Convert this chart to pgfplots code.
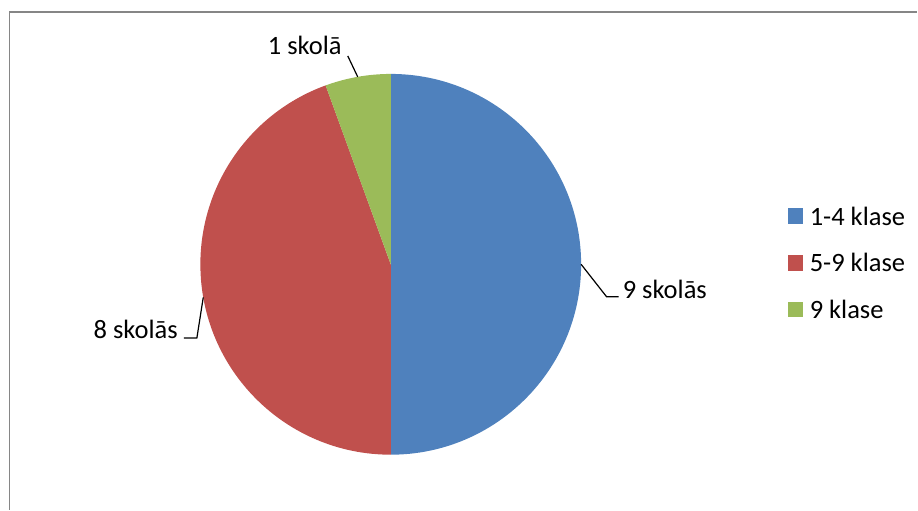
\documentclass[border=0pt]{standalone}
\usepackage{pgfplots}
\usepackage{pgfplotstable}
\pgfplotsset{compat=1.18}
\usepackage{fontspec}
\setmainfont{Carlito}

\definecolor{pieblue}{RGB}{79,129,189}
\definecolor{piered}{RGB}{192,80,77}
\definecolor{piegreen}{RGB}{155,187,89}
\definecolor{framegray}{RGB}{134,134,134}

% skolu skaits pa klasu grupam
\pgfplotstableread[col sep=comma]{
klase,skolas
1-4 klase,9
5-9 klase,8
9 klase,1
}\piedata

\begin{document}
\begin{tikzpicture}
\pgfplotstablegetelem{0}{skolas}\of\piedata \edef\va{\pgfplotsretval}
\pgfplotstablegetelem{1}{skolas}\of\piedata \edef\vb{\pgfplotsretval}
\pgfplotstablegetelem{2}{skolas}\of\piedata \edef\vc{\pgfplotsretval}
\pgfmathsetmacro\tot{\va+\vb+\vc}
\pgfmathsetmacro\aA{90}
\pgfmathsetmacro\aB{\aA-360*\va/\tot}
\pgfmathsetmacro\aC{\aB-360*\vb/\tot}
\pgfmathsetmacro\aD{\aC-360*\vc/\tot}
\pgfmathsetmacro\mA{(\aA+\aB)/2}
\pgfmathsetmacro\mB{(\aB+\aC)/2}
\pgfmathsetmacro\mC{(\aC+\aD)/2}
\def\R{190.5bp}
\def\lblfont{\fontsize{26.5bp}{31bp}\selectfont}
\begin{axis}[
    scale only axis,
    width=918bp, height=510bp,
    xmin=0, xmax=918, ymin=0, ymax=510,
    hide axis,
    clip=false,
    legend image code/.code={\fill[#1] (0bp,-7bp) rectangle (14.4bp,7.4bp);},
    legend cell align=left,
    legend style={draw=none, fill=none, inner sep=0pt,
        at={(axis cs:788,303)}, anchor=north west,
        font=\fontsize{26.5bp}{31bp}\selectfont,
        row sep=28.7bp, column sep=7.3bp,
        nodes={inner sep=0pt, text height=18bp, text depth=0bp}},
]
\path (axis cs:0,0) rectangle (axis cs:918,510);
\draw[framegray, line width=1.2bp] (axis cs:9.5,0) -- (axis cs:9.5,498) -- (axis cs:918,498);

\fill[pieblue] (axis cs:391,245.5) -- ([shift={(\aA:\R)}]axis cs:391,245.5)
    arc[start angle=\aA, end angle=\aB, radius=\R] -- cycle;
\fill[piered] (axis cs:391,245.5) -- ([shift={(\aB:\R)}]axis cs:391,245.5)
    arc[start angle=\aB, end angle=\aC, radius=\R] -- cycle;
\fill[piegreen] (axis cs:391,245.5) -- ([shift={(\aC:\R)}]axis cs:391,245.5)
    arc[start angle=\aC, end angle=\aD, radius=\R] -- cycle;

% datu etiketes ar vilkumiem
\draw[line width=1.2bp] ([shift={(\mA:\R)}]axis cs:391,245.5) -- (axis cs:607,213) -- (axis cs:619,213);
\draw[line width=1.2bp] ([shift={(\mB:\R)}]axis cs:391,245.5) -- (axis cs:197,171.7) -- (axis cs:184,171.7);
\draw[line width=1.2bp] ([shift={(\mC:\R)}]axis cs:391,245.5) -- (axis cs:348,454);
\node[anchor=base west, inner sep=0pt, font=\lblfont] at (axis cs:623,211) {9 skolās};
\node[anchor=base east, inner sep=0pt, font=\lblfont] at (axis cs:178,171.7) {8 skolās};
\node[anchor=base east, inner sep=0pt, font=\lblfont] at (axis cs:342,455.7) {1 skolā};

\addlegendimage{pieblue}
\addlegendentry{1-4 klase}
\addlegendimage{piered}
\addlegendentry{5-9 klase}
\addlegendimage{piegreen}
\addlegendentry{9 klase}
\end{axis}
\end{tikzpicture}
\end{document}
